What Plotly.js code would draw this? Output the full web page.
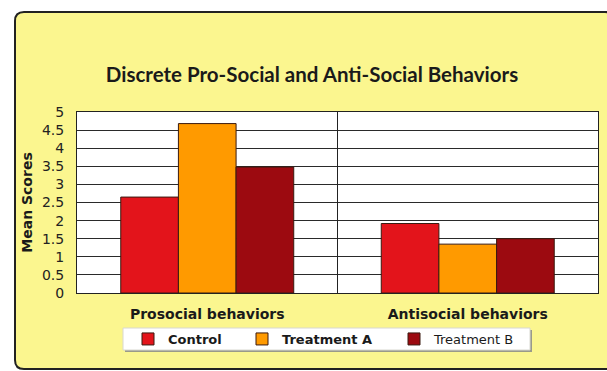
<!DOCTYPE html>
<html>
<head>
<meta charset="utf-8">
<script src="https://cdn.plot.ly/plotly-3.0.1.min.js"></script>
<style>html,body{margin:0;padding:0;background:#fff;}#chart{width:607px;height:371px;}</style>
</head>
<body>
<div id="chart"></div>
<script>
const categories = ["Prosocial behaviors", "Antisocial behaviors"];
const seriesNames = ["Control", "Treatment A", "Treatment B"];
const control = [2.65, 1.92];
const treatmentA = [4.68, 1.35];
const treatmentB = [3.48, 1.5];
const yTicks = [0, 0.5, 1, 1.5, 2, 2.5, 3, 3.5, 4, 4.5, 5];

const W = 607, H = 371;
const M = {l: 77, r: 9, t: 112, b: 78};
const PW = W - M.l - M.r, PH = H - M.t - M.b;
const px = v => (v - M.l) / PW;
const py = v => (H - M.b - v) / PH;

function roundRect(x0, y0, x1, y1, r) {
  const rx = r / PW, ry = r / PH;
  const X0 = px(x0), X1 = px(x1), Y0 = py(y0), Y1 = py(y1);
  return `M${X0 + rx},${Y0} L${X1 - rx},${Y0} Q${X1},${Y0} ${X1},${Y0 - ry} L${X1},${Y1 + ry} Q${X1},${Y1} ${X1 - rx},${Y1} L${X0 + rx},${Y1} Q${X0},${Y1} ${X0},${Y1 + ry} L${X0},${Y0 - ry} Q${X0},${Y0} ${X0 + rx},${Y0} Z`;
}

const colors = ["#E3141B", "#FF9A00", "#9C0A10"];
const vals = [control, treatmentA, treatmentB];
const legends = ["legend", "legend2", "legend3"];
const traces = seriesNames.map((n, i) => ({
  type: "bar", name: n, x: categories, y: vals[i],
  marker: {color: colors[i], line: {color: "#3a1a10", width: 1}},
  legend: legends[i], hoverinfo: "skip"
}));

const legFont = (w) => ({family: "DejaVu Sans", size: 13, color: "#1a1a1a", weight: w});
const legY = py(339);
const layout = {
  width: W, height: H,
  margin: M,
  paper_bgcolor: "#ffffff",
  plot_bgcolor: "#ffffff",
  barmode: "group", bargap: 0.336, bargroupgap: 0,
  title: {
    text: "Discrete Pro-Social and Anti-Social Behaviors",
    font: {family: "Lato", size: 20.5, color: "#1a1a1a", weight: "bold"},
    x: px(312), xref: "paper", xanchor: "center",
    y: 1 - 75 / H, yref: "container", yanchor: "middle"
  },
  xaxis: {
    type: "category", range: [-0.5, 1.5],
    showgrid: false, showline: true, linecolor: "#222", linewidth: 1, mirror: true,
    ticks: "", ticklabelstandoff: 8,
    tickfont: {family: "DejaVu Sans", size: 14, color: "#1a1a1a", weight: "bold"}
  },
  yaxis: {
    range: [0, 5], tickvals: yTicks, ticktext: yTicks.map(String),
    showgrid: true, gridcolor: "#2a2a2a", gridwidth: 1,
    zeroline: false, showline: true, linecolor: "#222", linewidth: 1, mirror: true,
    ticks: "", ticklabelstandoff: 9,
    tickfont: {family: "DejaVu Sans", size: 14, color: "#222"},
    title: {text: "Mean Scores", standoff: 6, font: {family: "DejaVu Sans", size: 14, color: "#1a1a1a", weight: "bold"}}
  },
  showlegend: true,
  legend: {orientation: "h", x: px(128), y: legY, xanchor: "left", yanchor: "middle", bgcolor: "rgba(0,0,0,0)", font: legFont("bold"), itemwidth: 30},
  legend2: {orientation: "h", x: px(242), y: legY, xanchor: "left", yanchor: "middle", bgcolor: "rgba(0,0,0,0)", font: legFont("bold"), itemwidth: 30},
  legend3: {orientation: "h", x: px(394), y: legY, xanchor: "left", yanchor: "middle", bgcolor: "rgba(0,0,0,0)", font: legFont("normal"), itemwidth: 30},
  shapes: [
    {type: "path", xref: "paper", yref: "paper", path: roundRect(15, 12, 614, 369, 9),
     fillcolor: "#FBF68F", line: {color: "#222", width: 2}, layer: "below"},
    {type: "rect", xref: "paper", yref: "paper", x0: 0, x1: 1, y0: 0, y1: 1,
     fillcolor: "#ffffff", line: {width: 0}, layer: "below"},
    {type: "rect", xref: "paper", yref: "paper", x0: px(125), x1: px(532), y0: py(352), y1: py(330),
     fillcolor: "#9a9a8a", line: {width: 0}, layer: "below"},
    {type: "rect", xref: "paper", yref: "paper", x0: px(123), x1: px(530), y0: py(350), y1: py(328),
     fillcolor: "#ffffff", line: {color: "#d8d8d0", width: 1}, layer: "below"},
    {type: "line", xref: "x", yref: "paper", x0: 0.5, x1: 0.5, y0: 0, y1: 1,
     line: {color: "#222", width: 1}, layer: "above"}
  ]
};

Plotly.newPlot("chart", traces, layout, {staticPlot: true, displayModeBar: false});
</script>
</body>
</html>
